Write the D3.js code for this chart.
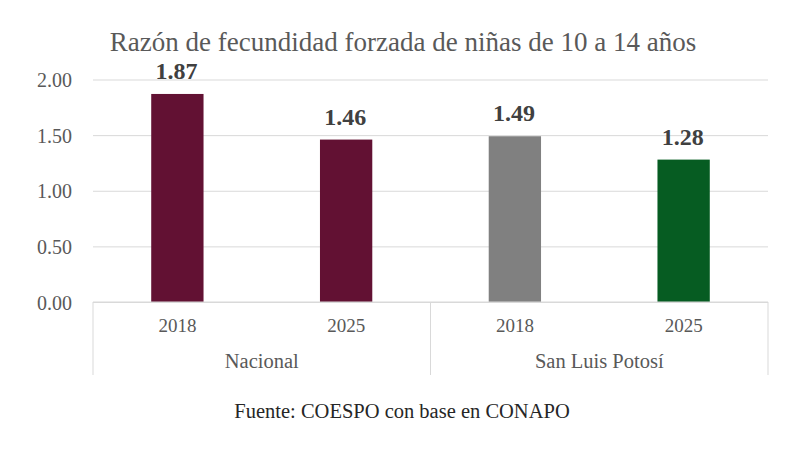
<!DOCTYPE html>
<html>
<head>
<meta charset="utf-8">
<script src="https://cdn.jsdelivr.net/npm/d3@7"></script>
<style>
  body { margin: 0; background: #fff; }
  svg text { font-family: "Liberation Serif", "DejaVu Serif", serif; }
</style>
</head>
<body>
<div id="chart"></div>
<script>
/* razón de fecundidad forzada, niñas 10-14 */

const groups = ["Nacional", "San Luis Potosí"];
const years = ["2018", "2025"];
const values = [1.87, 1.46, 1.49, 1.28]; // Nacional 2018, 2025, SLP 2018, 2025
const barColors = ["#621133", "#621133", "#808080", "#065c22"];
const yTicks = [0, 0.5, 1, 1.5, 2];

const data = values.map((v, i) => ({
    group: groups[Math.floor(i / 2)],
    year: years[i % 2],
    key: i,
    value: v,
    color: barColors[i]
}));

const width = 800, height = 450,
    margin = ({top: 79.5, right: 32, bottom: 148, left: 93});

let svg = d3.select("#chart")
    .append("svg")
    .attr("width", width)
    .attr("height", height)
    .attr("font-family", "Liberation Serif, serif");

const x = d3.scaleBand() // one band per bar
    .domain(data.map(d => d.key))
    .range([margin.left, width - margin.right])
    .paddingInner(0.69)
    .paddingOuter(0.345);

const y = d3.scaleLinear()
    .domain([0, 2])
    .range([height - margin.bottom, margin.top]);

// gridlines + tick labels
const yAxis = svg.append("g")
    .attr("transform", `translate(${margin.left},0)`)
    .call(d3.axisLeft(y).tickValues(yTicks).tickFormat(d3.format(".2f"))
        .tickSize(-(width - margin.left - margin.right)).tickPadding(21));
yAxis.attr("font-family", null);
yAxis.select(".domain").remove();
yAxis.selectAll(".tick line").attr("stroke", "#d9d9d9");
yAxis.selectAll(".tick text")
    .attr("fill", "#595959")
    .style("font-size", "20px")
    .attr("dy", "0.35em");

// bars
svg.selectAll(".bar")
    .data(data)
    .join("rect")
    .attr("class", "bar")
    .attr("fill", d => d.color)
    .attr("x", d => x(d.key))
    .attr("width", x.bandwidth())
    .attr("y", d => y(d.value))
    .attr("height", d => y(0) - y(d.value));

// value labels
svg.selectAll(".val")
    .data(data)
    .join("text")
    .attr("class", "val")
    .text(d => d.value.toFixed(2))
    .attr("x", d => x(d.key) + x.bandwidth() / 2 - 1)
    .attr("y", d => y(d.value) - 15)
    .attr("text-anchor", "middle")
    .attr("fill", "#404040")
    .style("font-size", "24px")
    .style("font-weight", "bold");

// category axis: baseline, year labels, group labels, separators
const y0 = y(0);
svg.append("line")
    .attr("x1", margin.left).attr("x2", width - margin.right)
    .attr("y1", y0).attr("y2", y0)
    .attr("stroke", "#d9d9d9");

svg.selectAll(".yr")
    .data(data)
    .join("text")
    .attr("class", "yr")
    .text(d => d.year)
    .attr("x", d => x(d.key) + x.bandwidth() / 2)
    .attr("y", y0 + 30)
    .attr("text-anchor", "middle")
    .attr("fill", "#595959")
    .style("font-size", "19px");

const step = x.step();
const groupStart = g => x(g * 2) - x.paddingOuter() * step;
const seps = [0, 1, 2].map(g => g === 2 ? width - margin.right : groupStart(g));

svg.selectAll(".sep")
    .data(seps)
    .join("line")
    .attr("class", "sep")
    .attr("x1", d => d).attr("x2", d => d)
    .attr("y1", y0).attr("y2", y0 + 73)
    .attr("stroke", "#d9d9d9");

svg.selectAll(".grp")
    .data(groups)
    .join("text")
    .attr("class", "grp")
    .text(d => d)
    .attr("x", (d, i) => (seps[i] + seps[i + 1]) / 2)
    .attr("y", y0 + 66)
    .attr("text-anchor", "middle")
    .attr("fill", "#595959")
    .style("font-size", "20.5px");

// title
svg.append("text")
    .text("Razón de fecundidad forzada de niñas de 10 a 14 años")
    .attr("x", 403)
    .attr("y", 51)
    .attr("text-anchor", "middle")
    .attr("fill", "#595959")
    .style("font-size", "27px");

// source
svg.append("text")
    .text("Fuente: COESPO con base en CONAPO")
    .attr("x", 402)
    .attr("y", 418)
    .attr("text-anchor", "middle")
    .attr("fill", "#262626")
    .style("font-size", "20.5px");
</script>
</body>
</html>
